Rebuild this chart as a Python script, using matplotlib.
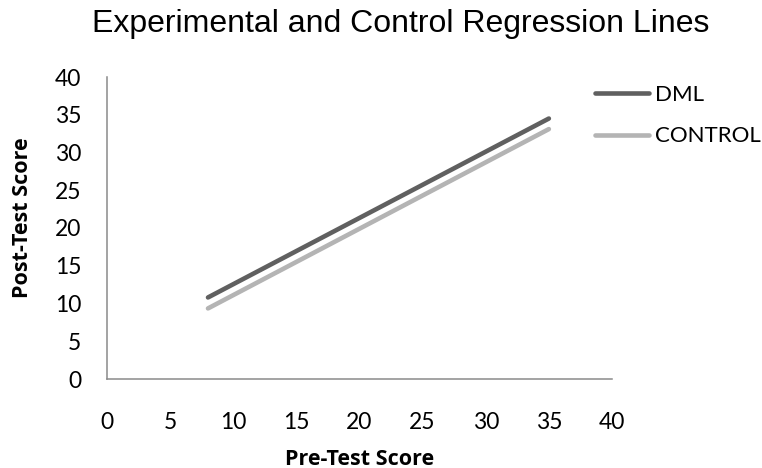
import matplotlib
matplotlib.use('Agg')
import matplotlib.pyplot as plt

# regression line endpoints (pre-test -> post-test)
pre_scores = [8, 35]
dml_post = [10.8, 34.5]
control_post = [9.35, 33.1]
series_names = ['DML', 'CONTROL']
ticks = [0, 5, 10, 15, 20, 25, 30, 35, 40]

fig = plt.figure(figsize=(7.62, 4.68), dpi=100)
ax = fig.add_axes([107 / 762, 89 / 468, 505 / 762, 302 / 468])

ax.plot(pre_scores, dml_post, color='#606060', linewidth=3.3,
        solid_capstyle='round', label=series_names[0])
ax.plot(pre_scores, control_post, color='#b4b4b4', linewidth=3.3,
        solid_capstyle='round', label=series_names[1])

ax.set_xlim(0, 40)
ax.set_ylim(0, 40)
ax.set_xticks(ticks)
ax.set_yticks(ticks)
ax.tick_params(length=0, labelsize=16.5)
ax.tick_params(axis='x', pad=23.5)
ax.tick_params(axis='y', pad=18.5)
for lab in ax.get_xticklabels() + ax.get_yticklabels():
    lab.set_fontfamily('Lato')
for side in ['top', 'right']:
    ax.spines[side].set_visible(False)
for side in ['left', 'bottom']:
    ax.spines[side].set_color('#8a8a8a')
    ax.spines[side].set_linewidth(1.1)

ax.set_xlabel('Pre-Test Score', fontsize=15.5, fontweight='bold',
              family='Open Sans', va='center')
ax.xaxis.set_label_coords(0.5, -0.265)
ax.set_ylabel('Post-Test Score', fontsize=15.5, fontweight='bold',
              family='Open Sans', va='center')
ax.yaxis.set_label_coords(-0.168, 0.533)

fig.text(401 / 762, 1 - 32.3 / 468, 'Experimental and Control Regression Lines',
         ha='center', va='baseline', fontsize=23, family='Liberation Sans')

ax.legend(loc='upper left', bbox_to_anchor=(0.966, 0.974),
          frameon=False, borderpad=0, borderaxespad=0,
          handlelength=2.43, handletextpad=0.27, labelspacing=0.97,
          prop={'family': 'Lato', 'size': 16})

fig.savefig('out.png', dpi=100)
